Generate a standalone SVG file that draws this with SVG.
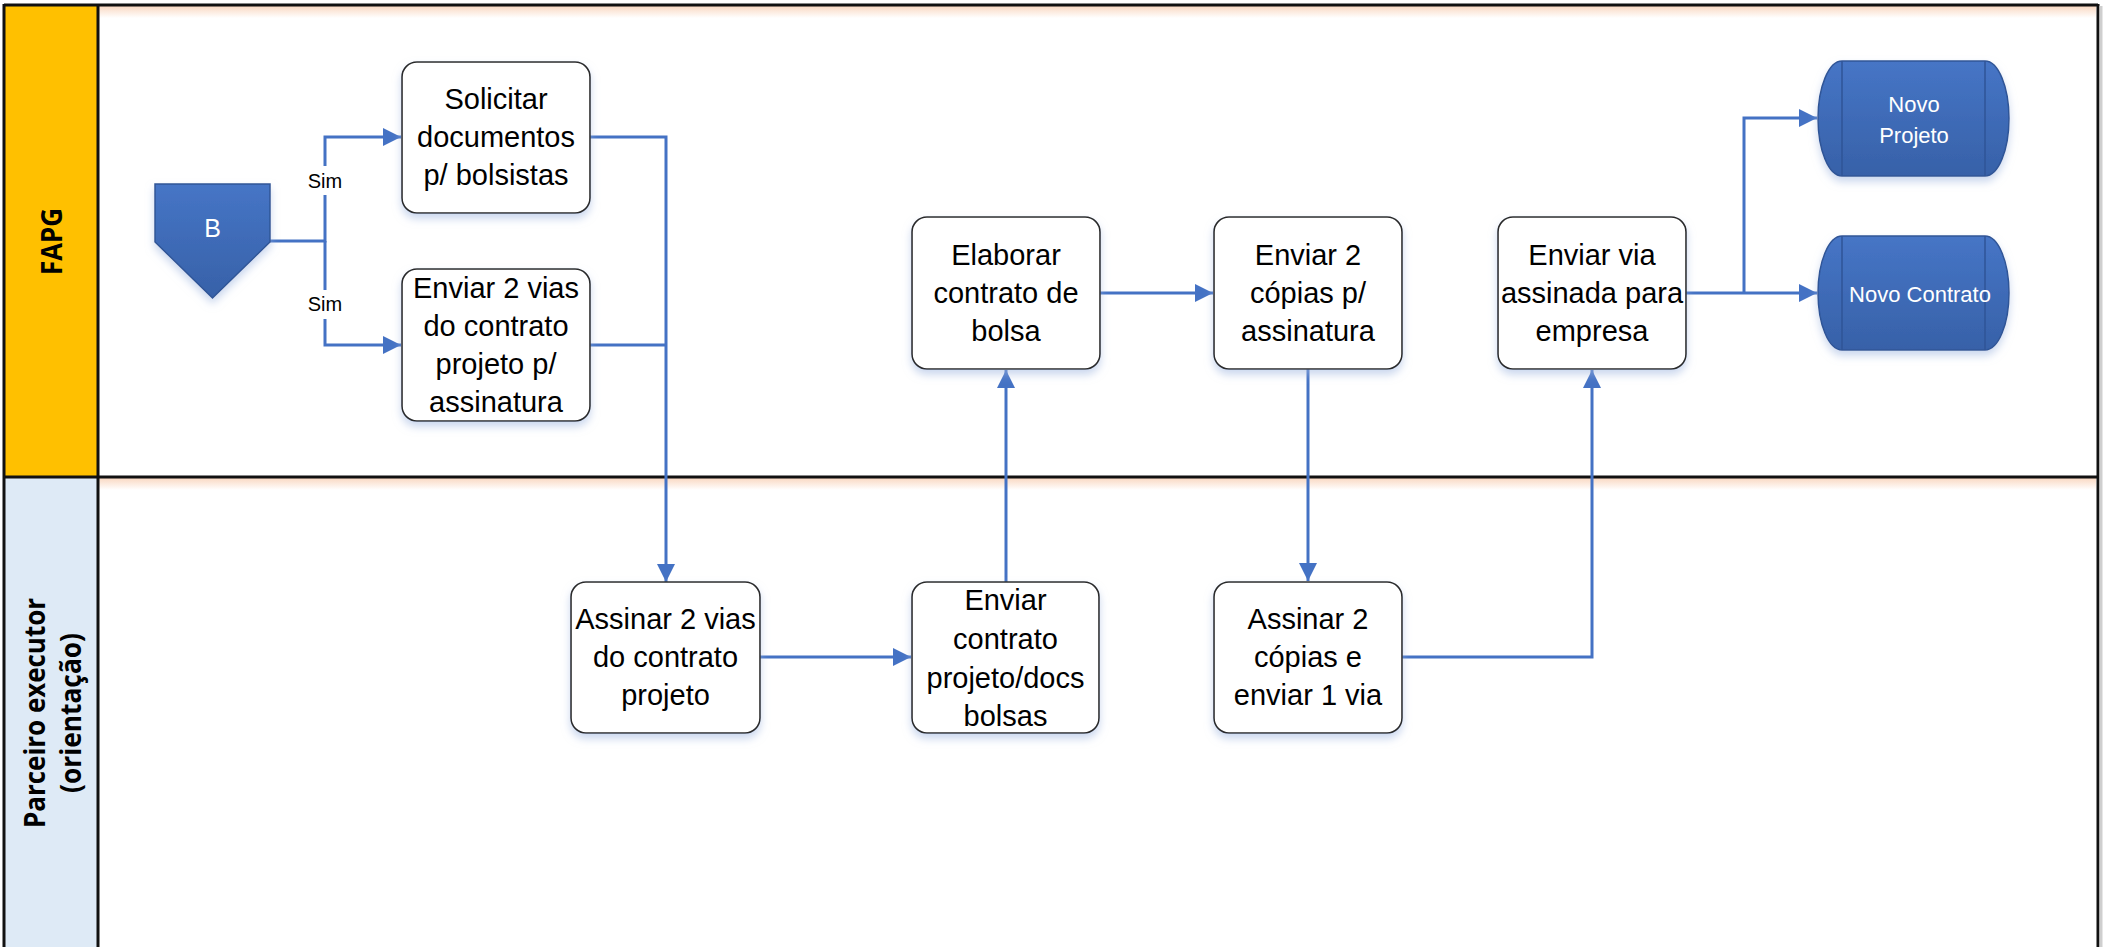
<svg xmlns="http://www.w3.org/2000/svg" width="2105" height="947" viewBox="0 0 2105 947">
<defs>
<linearGradient id="blueG" x1="0" y1="0" x2="0" y2="1">
<stop offset="0" stop-color="#4675c6"/>
<stop offset="1" stop-color="#3761a8"/>
</linearGradient>
<linearGradient id="peach" x1="0" y1="0" x2="0" y2="1">
<stop offset="0" stop-color="#f8cbad" stop-opacity="0.75"/>
<stop offset="1" stop-color="#f8cbad" stop-opacity="0"/>
</linearGradient>
<filter id="sh" x="-20%" y="-20%" width="140%" height="150%">
<feDropShadow dx="0" dy="5" stdDeviation="4" flood-color="#9fb6e0" flood-opacity="0.55"/>
</filter>
<marker id="arr" viewBox="0 0 6 6" refX="6" refY="3" markerWidth="6" markerHeight="6" markerUnits="strokeWidth" orient="auto">
<path d="M0,0 L6,3 L0,6 Z" fill="#4472c4"/>
</marker>
<style>
.box{fill:#ffffff;stroke:#2b2b2b;stroke-width:1.6;filter:url(#sh)}
.t{font-family:"Liberation Sans",Arial,sans-serif;font-size:29px;fill:#000;text-anchor:middle}
.w{font-family:"Liberation Sans",Arial,sans-serif;font-size:22px;fill:#fff;text-anchor:middle}
.sim{font-family:"Liberation Sans",Arial,sans-serif;font-size:20px;fill:#000;text-anchor:middle}
.lane{font-family:"Open Sans","DejaVu Sans",sans-serif;font-weight:bold;font-size:28px;fill:#000;text-anchor:middle}
.c{fill:none;stroke:#4472c4;stroke-width:3}
.ca{fill:none;stroke:#4472c4;stroke-width:3;marker-end:url(#arr)}
.blue{fill:url(#blueG);stroke:#2f5597;stroke-width:1.5;filter:url(#sh)}
</style>
</defs>
<rect x="0" y="0" width="2105" height="947" fill="#ffffff"/>
<g id="lanes">
<rect x="4" y="5" width="94" height="472" fill="#ffc000"/>
<rect x="4" y="477" width="94" height="480" fill="#deeaf6"/>
<rect x="99" y="6" width="1997" height="12" fill="url(#peach)"/>
<rect x="99" y="478" width="1997" height="12" fill="url(#peach)"/>
<line x1="4" y1="5" x2="2098" y2="5" stroke="#111" stroke-width="3"/>
<line x1="4" y1="477" x2="2098" y2="477" stroke="#111" stroke-width="3"/>
<line x1="4" y1="4" x2="4" y2="947" stroke="#111" stroke-width="3"/>
<line x1="98" y1="4" x2="98" y2="947" stroke="#111" stroke-width="3"/>
<line x1="2098" y1="4" x2="2098" y2="947" stroke="#111" stroke-width="3"/>
<line x1="2101" y1="6" x2="2101" y2="947" stroke="#cfcfcf" stroke-width="3"/>
<text class="lane" transform="translate(51,241.5) rotate(-90)" x="0" y="11" textLength="67" lengthAdjust="spacingAndGlyphs">FAPG</text>
<text class="lane" transform="translate(51,713) rotate(-90)" x="0" y="-6" textLength="230" lengthAdjust="spacingAndGlyphs">Parceiro executor</text>
<text class="lane" transform="translate(51,713) rotate(-90)" x="0" y="30" textLength="160" lengthAdjust="spacingAndGlyphs">(orientação)</text>
</g>
<g id="connectors">
<path class="ca" d="M270,241 H325 V137 H401"/>
<path class="ca" d="M325,241 V345 H401"/>
<path class="ca" d="M590,137 H666 V582"/>
<path class="c" d="M590,345 H666"/>
<path class="ca" d="M760,657 H911"/>
<path class="ca" d="M1006,582 V370"/>
<path class="ca" d="M1100,293 H1213"/>
<path class="ca" d="M1308,369 V581"/>
<path class="ca" d="M1402,657 H1592 V370"/>
<path class="ca" d="M1686,293 H1817"/>
<path class="ca" d="M1744,293 V118 H1817"/>
<rect x="305" y="166" width="40" height="29" fill="#fff"/>
<rect x="305" y="290" width="40" height="29" fill="#fff"/>
<text class="sim" x="325" y="188">Sim</text>
<text class="sim" x="325" y="311">Sim</text>
</g>
<g id="nodeB">
<polygon class="blue" points="155,184 270,184 270,242 212.5,298 155,242"/>
<text x="212.5" y="237" style="font-family:'Liberation Sans',Arial,sans-serif;font-size:25px;fill:#fff;text-anchor:middle">B</text>
</g>
<g id="solicitar">
<rect class="box" x="402" y="62" width="188" height="151" rx="15"/>
<text class="t" x="496" y="109">Solicitar</text>
<text class="t" x="496" y="147">documentos</text>
<text class="t" x="496" y="185">p/ bolsistas</text>
</g>
<g id="enviar2vias">
<rect class="box" x="402" y="269" width="188" height="152" rx="15"/>
<text class="t" x="496" y="298">Enviar 2 vias</text>
<text class="t" x="496" y="336">do contrato</text>
<text class="t" x="496" y="374">projeto  p/</text>
<text class="t" x="496" y="412">assinatura</text>
</g>
<g id="elaborar">
<rect class="box" x="912" y="217" width="188" height="152" rx="15"/>
<text class="t" x="1006" y="265">Elaborar</text>
<text class="t" x="1006" y="303">contrato de</text>
<text class="t" x="1006" y="341">bolsa</text>
</g>
<g id="enviar2copias">
<rect class="box" x="1214" y="217" width="188" height="152" rx="15"/>
<text class="t" x="1308" y="265">Enviar 2</text>
<text class="t" x="1308" y="303">cópias p/</text>
<text class="t" x="1308" y="341">assinatura</text>
</g>
<g id="enviarvia">
<rect class="box" x="1498" y="217" width="188" height="152" rx="15"/>
<text class="t" x="1592" y="265">Enviar via</text>
<text class="t" x="1592" y="303">assinada para</text>
<text class="t" x="1592" y="341">empresa</text>
</g>
<g id="novoprojeto">
<path class="blue" d="M1842,61 H1985 A24 57.5 0 0 1 1985,176 H1842 A24 57.5 0 0 1 1842,61 Z"/>
<line x1="1842" y1="61" x2="1842" y2="176" stroke="#2f5597" stroke-width="1.5"/>
<line x1="1985" y1="61" x2="1985" y2="176" stroke="#2f5597" stroke-width="1.5"/>
<text class="w" x="1914" y="112">Novo</text>
<text class="w" x="1914" y="143">Projeto</text>
</g>
<g id="novocontrato">
<path class="blue" d="M1842,236 H1985 A24 57 0 0 1 1985,350 H1842 A24 57 0 0 1 1842,236 Z"/>
<line x1="1842" y1="236" x2="1842" y2="350" stroke="#2f5597" stroke-width="1.5"/>
<line x1="1985" y1="236" x2="1985" y2="350" stroke="#2f5597" stroke-width="1.5"/>
<text class="w" x="1920" y="302">Novo Contrato</text>
</g>
<g id="assinar2vias">
<rect class="box" x="571" y="582" width="189" height="151" rx="15"/>
<text class="t" x="665.5" y="629">Assinar 2 vias</text>
<text class="t" x="665.5" y="667">do contrato</text>
<text class="t" x="665.5" y="705">projeto</text>
</g>
<g id="enviarcontrato">
<rect class="box" x="912" y="582" width="187" height="151" rx="15"/>
<text class="t" x="1005.5" y="610">Enviar</text>
<text class="t" x="1005.5" y="649">contrato</text>
<text class="t" x="1005.5" y="688">projeto/docs</text>
<text class="t" x="1005.5" y="726">bolsas</text>
</g>
<g id="assinar2copias">
<rect class="box" x="1214" y="582" width="188" height="151" rx="15"/>
<text class="t" x="1308" y="629">Assinar 2</text>
<text class="t" x="1308" y="667">cópias e</text>
<text class="t" x="1308" y="705">enviar 1 via</text>
</g>
</svg>
